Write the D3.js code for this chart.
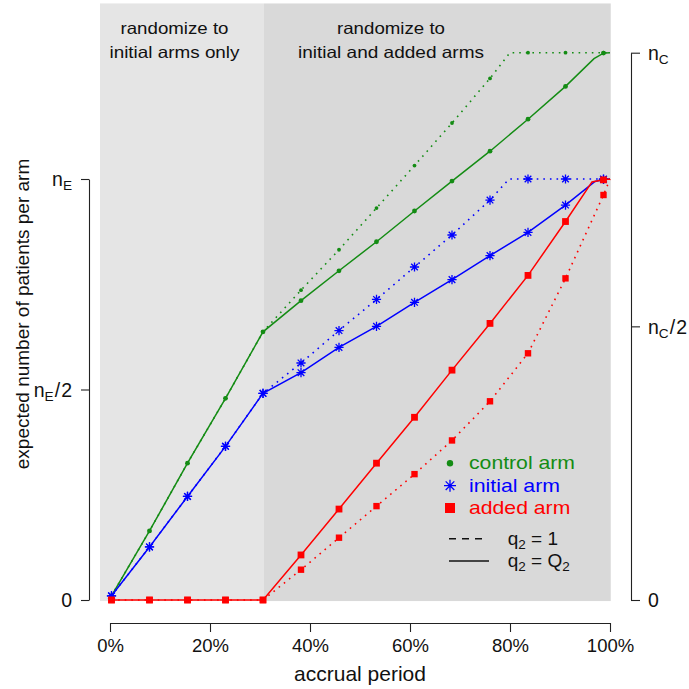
<!DOCTYPE html>
<html><head><meta charset="utf-8">
<script src="https://cdn.jsdelivr.net/npm/d3@7"></script>
<style>
body{margin:0;background:#fff}
text{font-family:"Liberation Sans",Arial,Helvetica,sans-serif}
</style>
</head><body>
<svg id="c" width="689" height="689"></svg>
<script>
// ---- data (y in units where n_E = 100, n_C = 130) ----
const accrual = [0.3, 7.9, 15.5, 23.1, 30.6, 38.2, 45.8, 53.3, 60.9, 68.4, 76.0, 83.6, 91.1, 98.7];
const controlSolid  = [1.0, 16.4, 32.5, 47.9, 63.7, 71.1, 78.2, 85.1, 92.4, 99.5, 106.6, 114.2, 122.0, 129.9];
const controlDotted = [1.0, 16.4, 32.5, 47.9, 63.7, 73.6, 83.2, 93.1, 103.2, 113.3, 123.9, 130, 130, 130];
const initialSolid  = [1.0, 12.6, 24.6, 36.5, 49.1, 54.0, 60.0, 65.0, 70.7, 76.1, 81.8, 87.3, 93.8, 99.9];
const initialDotted = [1.0, 12.6, 24.6, 36.5, 49.1, 56.3, 64.0, 71.4, 79.1, 86.7, 95.0, 100, 100, 100];
const addedSolid    = [0, 0, 0, 0, 0, 10.7, 21.6, 32.5, 43.4, 54.6, 65.7, 77.1, 89.9, 99.8];
const addedDotted   = [0, 0, 0, 0, 0, 7.2, 14.8, 22.3, 29.9, 37.9, 47.2, 58.6, 76.4, 96.2];
// extra line points (bends / plateau, end of accrual)
const controlSolidExtra  = [[96.8, 128.6], [100, 130]];
const controlDottedExtra = [[80.0, 130], [100, 130]];
const initialSolidExtra  = [[97.0, 99.4], [100, 100]];
const initialDottedExtra = [[79.8, 100], [100, 100]];
const addedSolidExtra    = [[96.4, 99.3], [100, 100]];
const addedDottedExtra   = [[100, 100]];

const xTicks = [0, 20, 40, 60, 80, 100];
const leftTicks = [0, 50, 100];
const leftTickLabels = [["0"], ["n", "E", "/", "2"], ["n", "E"]];
const rightTicks = [0, 65, 130];
const rightTickLabels = [["0"], ["n", "C", "/", "2"], ["n", "C"]];
const phaseBoundary = 30.8;
const phaseLabels = [["randomize to", "initial arms only"], ["randomize to", "initial and added arms"]];
const armNames = ["control arm", "initial arm", "added arm"];
const lineTypeLabels = [["q", "2", " = 1"], ["q", "2", " = Q", "2"]];

// ---- setup ----
const GREEN = "#148c14", BLUE = "#0000ff", RED = "#ff0000", AX = "#222";
const svg = d3.select("#c");
const x = d3.scaleLinear().domain([0, 100]).range([110, 610]);
const y = d3.scaleLinear().domain([0, 100]).range([600, 179]);
const yC = d3.scaleLinear().domain([0, 130]).range([600, y(130)]);

// background phases
svg.append("rect").attr("x", x(-2)).attr("y", y(141.7))
  .attr("width", x(phaseBoundary) - x(-2)).attr("height", y(-0.25) - y(141.7)).attr("fill", "#e5e5e5");
svg.append("rect").attr("x", x(phaseBoundary)).attr("y", y(141.7))
  .attr("width", x(100.15) - x(phaseBoundary)).attr("height", y(-0.25) - y(141.7)).attr("fill", "#d9d9d9");

function label(g, px, py, str, size, width, anchor, color) {
  const t = g.append("text").attr("x", px).attr("y", py).attr("font-size", size)
    .attr("text-anchor", anchor || "start").attr("fill", color || "#111").text(str);
  if (width) t.attr("textLength", width).attr("lengthAdjust", "spacingAndGlyphs");
  return t;
}
// phase annotations
const phaseCenters = [174.5, 391];
const phaseWidths = [[108, 130], [108, 186]];
phaseLabels.forEach((lines, i) => {
  lines.forEach((s, j) => label(svg, phaseCenters[i], 33.5 + 24 * j, s, 16.5, phaseWidths[i][j], "middle", "#111"));
});

// ---- axes ----
function subLabel(textSel, parts, size) {
  textSel.text(null);
  textSel.append("tspan").text(parts[0]);
  if (parts[1]) {
    textSel.append("tspan").attr("font-size", size * 0.7).attr("dy", 4).text(parts[1]);
    if (parts[2]) {
      textSel.append("tspan").attr("dy", -4).attr("dx", 1).text(parts[2]);
      textSel.append("tspan").attr("dx", 1).text(parts[3]);
    }
  }
}
const gL = svg.append("g").attr("transform", "translate(89,0)")
  .call(d3.axisLeft(y).tickValues(leftTicks).tickSize(8).tickPadding(9).tickSizeOuter(0).tickFormat(() => ""));
gL.selectAll("text").each(function (d, i) {
  const t = d3.select(this).attr("font-size", 19.5).attr("fill", "#111").attr("dy", "0.35em");
  subLabel(t, leftTickLabels[i], 19.5);
});
const gR = svg.append("g").attr("transform", "translate(631,0)")
  .call(d3.axisRight(yC).tickValues(rightTicks).tickSize(9).tickPadding(8).tickSizeOuter(0).tickFormat(() => ""));
gR.selectAll("text").each(function (d, i) {
  const t = d3.select(this).attr("font-size", 19.5).attr("fill", "#111").attr("dy", "0.35em");
  subLabel(t, rightTickLabels[i], 19.5);
});
const gB = svg.append("g").attr("transform", "translate(0,623)")
  .call(d3.axisBottom(x).tickValues(xTicks).tickSize(9).tickPadding(7).tickSizeOuter(0).tickFormat(d => d + "%"));
gB.selectAll("text").attr("font-size", 18.5).attr("fill", "#111");
[gL, gR, gB].forEach(g => {
  g.attr("font-family", null);
  g.selectAll("path,line").attr("stroke", AX).attr("stroke-width", 1.1);
});

label(svg, x(50), 681, "accrual period", 21, null, "middle", "#111");
svg.append("text").attr("transform", "translate(29,314) rotate(-90)").attr("text-anchor", "middle")
  .attr("font-size", 19).attr("fill", "#111").text("expected number of patients per arm");

// ---- series ----
const line = d3.line().x(d => x(d[0])).y(d => y(d[1]));
function pts(vals, extra) {
  return accrual.map((a, i) => [a, vals[i]]).concat(extra).sort((a, b) => a[0] - b[0]);
}
function marker(g, shape, cx, cy, color, s) {
  if (shape === "dot") {
    g.append("circle").attr("cx", cx).attr("cy", cy).attr("r", s).attr("fill", color);
  } else if (shape === "star") {
    const d = s * 0.72;
    g.append("path").attr("d", `M${cx - s},${cy}H${cx + s}M${cx},${cy - s}V${cy + s}M${cx - d},${cy - d}L${cx + d},${cy + d}M${cx - d},${cy + d}L${cx + d},${cy - d}`)
      .attr("stroke", color).attr("stroke-width", 1.3).attr("fill", "none");
  } else {
    g.append("rect").attr("x", cx - s).attr("y", cy - s).attr("width", 2 * s).attr("height", 2 * s).attr("fill", color);
  }
}
const series = [
  { color: GREEN, shape: "dot", solid: controlSolid, dotted: controlDotted, sx: controlSolidExtra, dx: controlDottedExtra, ss: 2.4, ds: 1.9 },
  { color: BLUE, shape: "star", solid: initialSolid, dotted: initialDotted, sx: initialSolidExtra, dx: initialDottedExtra, ss: 4.6, ds: 4.6 },
  { color: RED, shape: "square", solid: addedSolid, dotted: addedDotted, sx: addedSolidExtra, dx: addedDottedExtra, ss: 3.4, ds: 3.2 }
];
const gS = svg.append("g");
series.forEach(s => {
  gS.append("path").attr("d", line(pts(s.dotted, s.dx))).attr("fill", "none").attr("stroke", s.color)
    .attr("stroke-width", 1.6).attr("stroke-dasharray", "1.6,5");
  accrual.forEach((a, i) => marker(gS, s.shape, x(a), y(s.dotted[i]), s.color, s.ds));
  gS.append("path").attr("d", line(pts(s.solid, s.sx))).attr("fill", "none").attr("stroke", s.color)
    .attr("stroke-width", 1.5);
  accrual.forEach((a, i) => marker(gS, s.shape, x(a), y(s.solid[i]), s.color, s.ss));
});

// ---- legend ----
const gLeg = svg.append("g");
const legRowsY = [469.3, 491.7, 514];
const legWidths = [106, 91, 101.3];
const legShapes = [["dot", 3.2], ["star", 6], ["square", 5]];
series.forEach((s, i) => {
  marker(gLeg, legShapes[i][0], 450, legRowsY[i] - 6, s.color, legShapes[i][1]);
  label(gLeg, 469, legRowsY[i], armNames[i], 18.5, legWidths[i], "start", s.color);
});
gLeg.append("line").attr("x1", 449).attr("x2", 485).attr("y1", 538.7).attr("y2", 538.7)
  .attr("stroke", "#111").attr("stroke-width", 1.4).attr("stroke-dasharray", "7,6");
gLeg.append("line").attr("x1", 449).attr("x2", 489).attr("y1", 561).attr("y2", 561)
  .attr("stroke", "#111").attr("stroke-width", 1.4);
[544.5, 566.7].forEach((by, i) => {
  const parts = lineTypeLabels[i];
  const t = gLeg.append("text").attr("x", 507.7).attr("y", by).attr("font-size", 19).attr("fill", "#111");
  t.append("tspan").text(parts[0]);
  t.append("tspan").attr("font-size", 13.5).attr("dy", 4).text(parts[1]);
  t.append("tspan").attr("dy", -4).text(parts[2]);
  if (parts[3]) t.append("tspan").attr("font-size", 13.5).attr("dy", 4).text(parts[3]);
});
</script>
</body></html>
